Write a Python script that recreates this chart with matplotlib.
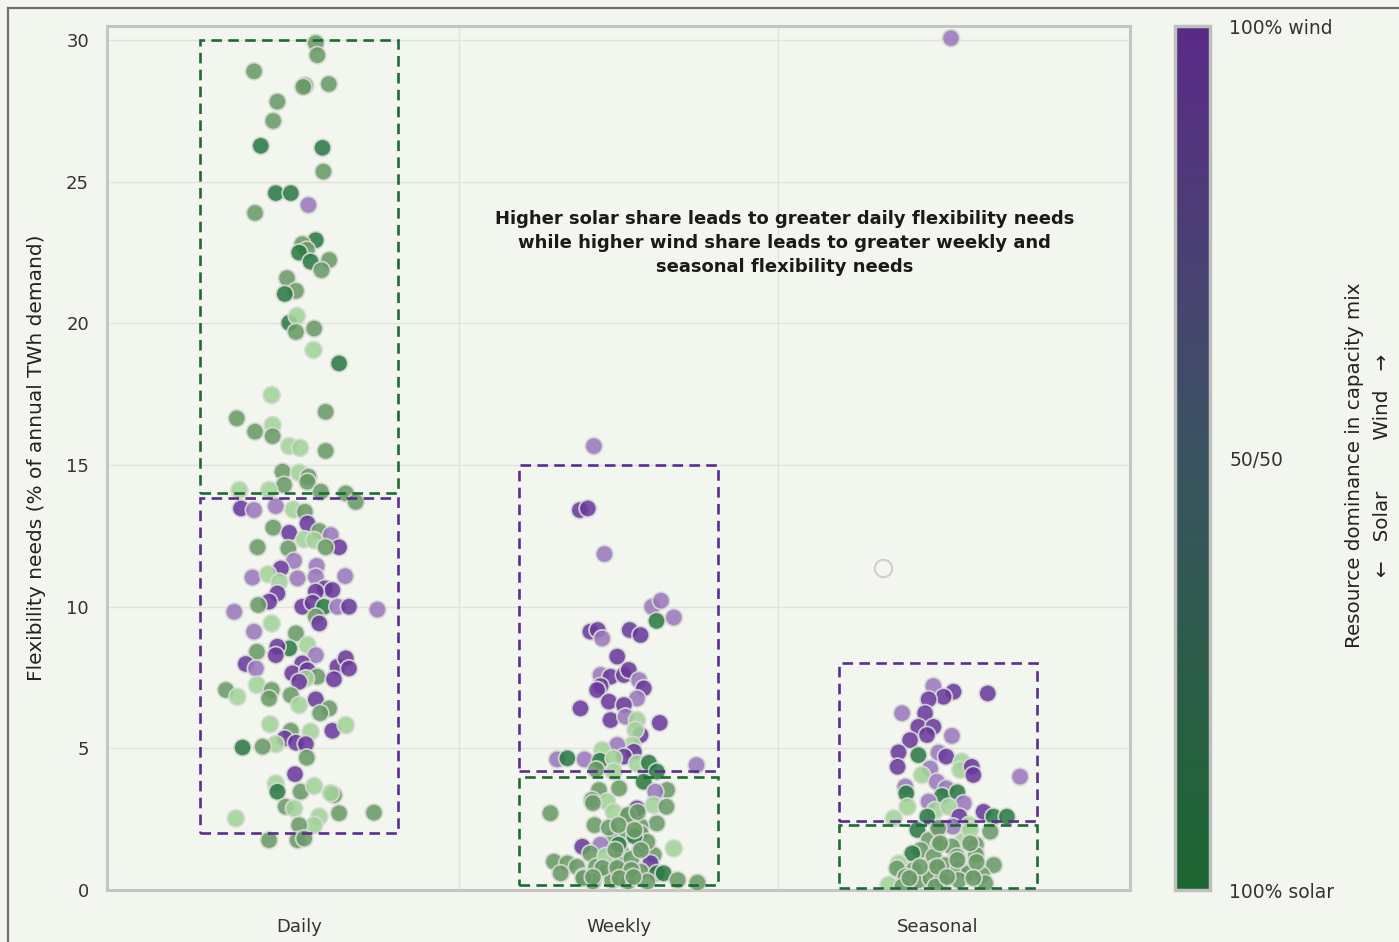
import numpy as np
import matplotlib
matplotlib.use("Agg")
import matplotlib.pyplot as plt
from matplotlib.colors import LinearSegmentedColormap, Normalize
from matplotlib.cm import ScalarMappable
from matplotlib.patches import Rectangle

# ---------- data ---------- #
categories = ["Daily", "Weekly", "Seasonal"]

# horizontal jitter (fraction of category spacing), flexibility need (%), mix class
# mix class: D dark green, M mid green, G light green, L light purple, P purple
daily_dx = [0.053, 0.058, -0.14, 0.02, 0.014, 0.094, -0.067, -0.08, -0.119, 0.074,
            0.077, -0.072, -0.025, 0.03, -0.137, 0.053, 0.011, 0.025, 0.001, 0.095,
            0.037, 0.071, -0.037, -0.009, -0.044, -0.03, -0.006, -0.009, 0.048, 0.046,
            0.126, -0.085, 0.084, -0.194, -0.137, -0.082, -0.082, -0.03, 0.004, 0.084,
            -0.051, 0.001, 0.03,
            -0.046, 0.027, -0.186, -0.093, 0.069, 0.147, 0.178, -0.181, -0.14, -0.072,
            -0.017, 0.019, 0.027, -0.08, -0.03, 0.064, 0.1, 0.017, 0.048, 0.126,
            -0.129, -0.033, 0.084, -0.015, -0.056, 0.056, 0.053, -0.004, -0.145, -0.096,
            -0.061, 0.145, 0.081, 0.105, 0.053, -0.067, -0.093, -0.127, 0.011, 0.043,
            0.079, 0.121, 0.157, 0.246, -0.202, 0.053, 0.064, -0.14, -0.085, -0.009,
            -0.03, -0.067, -0.072, 0.027, 0.053, -0.131, -0.166, -0.134, 0.011, -0.02,
            0.027, 0.058, 0.022, 0.001, 0.121, 0.147, 0.157, 0.11, -0.131, -0.228,
            -0.192, -0.085, -0.093, -0.025, 0.053, 0.001, 0.095, 0.067, -0.09, -0.025,
            0.037, 0.105, 0.147, -0.044, -0.009, 0.022, -0.072, -0.113, -0.176, 0.025,
            -0.012, -0.072, -0.067, 0.006, 0.048, 0.11, 0.1, -0.041, -0.015, -0.197,
            0.064, 0.126, 0.235, 0.048, 0.001, -0.093, -0.004, 0.017]
daily_y = [29.9, 29.47, 28.9, 28.4, 28.35, 28.45, 27.83, 27.15, 26.27, 26.2,
           25.36, 24.6, 24.6, 24.18, 23.9, 22.94, 22.8, 22.6, 22.5, 22.24,
           22.18, 21.88, 21.6, 21.15, 21.04, 20.02, 20.26, 19.7, 19.82, 19.06,
           18.59, 17.47, 16.88, 16.65, 16.18, 16.41, 16.02, 15.67, 15.61, 15.5,
           14.77, 14.73, 14.59,
           14.3, 14.41, 14.12, 14.12, 14.06, 14.0, 13.7, 13.47, 13.41, 13.55,
           13.43, 13.35, 12.94, 12.79, 12.61, 12.67, 12.53, 12.38, 12.35, 12.1,
           12.1, 12.06, 12.1, 11.62, 11.35, 11.44, 11.06, 11.0, 11.03, 11.15,
           10.88, 11.08, 10.65, 10.59, 10.53, 10.47, 10.18, 10.06, 10.0, 10.14,
           10.0, 10.0, 10.0, 9.9, 9.82, 9.65, 9.41, 9.12, 9.41, 9.06,
           8.53, 8.59, 8.29, 8.65, 8.29, 8.41, 7.98, 7.82, 8.0, 7.65,
           7.76, 7.53, 7.47, 7.35, 7.88, 8.18, 7.82, 7.44, 7.24, 7.06,
           6.82, 7.06, 6.76, 6.88, 6.73, 6.53, 6.41, 6.24, 5.85, 5.62,
           5.59, 5.62, 5.82, 5.35, 5.2, 5.15, 5.15, 5.06, 5.03, 4.67,
           4.09, 3.76, 3.47, 3.47, 3.67, 3.35, 3.42, 2.94, 2.88, 2.53,
           2.59, 2.71, 2.73, 2.29, 2.29, 1.76, 1.76, 1.82]
daily_mix = list("MMMMMMMMDD" "MDDLMDMMDM" "DMMMDDGMMG" "DGMMMGMGGM" "MGM"
                 "MMGGMMMPLL" "GMPMPMLGGP" "MMMLPLLLLG" "GLPPPPPMPP"
                 "DLPLLMPLGM" "DPPGLMPLPP" "PMGPPPPPGM" "GMMMPGMMGM"
                 "GPGPPPGMDM" "PGDMGMGMGG" "GMMGMMMM")

weekly_dx = [-0.077, -0.121, -0.096, -0.044, 0.105, 0.133, 0.173, 0.119, -0.088, -0.065,
             -0.051, 0.035, 0.069, -0.004, -0.056, -0.025, 0.017, 0.032, -0.056, -0.067,
             0.064, 0.079, 0.058, -0.03, 0.017, -0.119, -0.025, 0.022, 0.058, 0.129,
             0.069, 0.053, 0.043, -0.004, -0.051, 0.048, 0.017, -0.192, -0.16, -0.106,
             -0.058, -0.015, 0.058, 0.095, 0.244, 0.12, -0.015, -0.07, 0.079, 0.152,
             -0.061, 0.002, 0.115, 0.11, 0.15, -0.083, -0.036, 0.058, -0.213, -0.015,
             0.027, 0.12, -0.075, 0.069, -0.015, 0.027, 0.069, 0.173, -0.113, -0.056,
             -0.088, 0.069, 0.11, 0.1, -0.202, -0.16, -0.13, -0.181, -0.07, -0.036,
             -0.01, 0.02, 0.048, 0.069, 0.12, 0.141, -0.11, 0.185, 0.247, -0.03,
             0.01, 0.04, -0.04, 0.09, -0.02, 0.03, 0.09, -0.08, 0.0, 0.05,
             0.03, 0.06, -0.08, 0.0, 0.05, -0.01, 0.07, -0.05, -0.004, 0.04,
             -0.11, -0.08, 0.003, 0.047]
weekly_y = [15.67, 13.41, 13.47, 11.86, 10.0, 10.21, 9.62, 9.5, 9.12, 9.18,
            8.88, 9.18, 9.0, 8.24, 7.59, 7.53, 7.59, 7.77, 7.2, 7.06,
            7.41, 7.12, 6.76, 6.65, 6.53, 6.41, 6.0, 6.12, 6.0, 5.9,
            5.47, 5.65, 5.12, 5.12, 4.94, 4.88, 4.71, 4.61, 4.65, 4.61,
            4.56, 4.65, 4.47, 4.49, 4.41, 4.18, 4.18, 4.25, 3.82, 3.53,
            3.53, 3.59, 3.47, 3.0, 2.94, 3.18, 3.12, 2.88, 2.71, 2.75,
            2.59, 2.35, 2.29, 2.25, 1.82, 1.94, 2.0, 1.47, 1.53, 1.6,
            1.29, 1.47, 1.24, 0.95, 1.0, 0.94, 0.82, 0.59, 0.82, 0.7,
            0.72, 0.65, 0.59, 0.65, 0.59, 0.59, 0.47, 0.35, 0.26, 2.2,
            1.3, 1.1, 1.2, 1.7, 0.35, 0.3, 0.3, 0.3, 1.6, 1.9,
            2.65, 2.75, 3.07, 2.29, 2.12, 1.41, 1.41, 0.78, 0.78, 0.71,
            0.42, 0.46, 0.42, 0.46]
weekly_mix = list("LPPLLLLDPP" "LPPPLPPPPP" "LPLPPPPLGP" "PGGLGPPLDL"
                  "DGGDLDGMDM" "MMLGMMGPMG" "MMMMMMMGPL" "MMMPMMMMMM"
                  "MMDMDDMMMM" "MMGMMMMMDD" "MMMMMMMMMM" "MMMM")

seasonal_dx = [0.04, -0.015, 0.048, 0.017, -0.03, 0.155, -0.113, -0.041, -0.062, -0.015,
               -0.035, 0.043, -0.088, -0.124, -0.062, 0.001, 0.025, -0.127, -0.025, 0.074,
               0.069, 0.105, 0.11, 0.256, -0.051, -0.004, 0.025, -0.103, -0.1, 0.012,
               0.06, -0.03, 0.08, -0.096, -0.009, 0.033, 0.142, -0.139, -0.034, 0.066,
               0.173, 0.215, 0.097, -0.065, 0.004, 0.046, 0.163, -0.029, 0.077, 0.118,
               -0.055, 0.001, 0.043, -0.081, -0.014, 0.059, 0.118, 0.174, -0.123, -0.129,
               -0.076, -0.014, 0.022, 0.064, 0.095, 0.137, -0.102, -0.06, -0.024, 0.012,
               0.064, 0.147, -0.155, -0.112, -0.008,
               0.0, 0.1, 0.006, 0.1, 0.06, 0.12, -0.057, -0.003, 0.028, 0.11, -0.09]
seasonal_y = [30.07, 7.2, 7.0, 6.82, 6.73, 6.94, 6.24, 6.24, 5.76, 5.76,
              5.47, 5.44, 5.29, 4.86, 4.76, 4.85, 4.71, 4.35, 4.29, 4.53,
              4.24, 4.35, 4.06, 4.0, 4.06, 3.82, 3.59, 3.65, 3.41, 3.32,
              3.45, 3.12, 3.06, 2.94, 2.82, 2.94, 2.76, 2.53, 2.59, 2.59,
              2.59, 2.59, 2.3, 2.12, 2.18, 2.24, 2.06, 1.76, 1.71, 1.6,
              1.41, 1.59, 1.53, 1.29, 1.18, 1.18, 1.24, 0.88, 0.94, 0.76,
              0.71, 0.76, 0.88, 0.76, 0.59, 0.53, 0.47, 0.35, 0.41, 0.35,
              0.35, 0.24, 0.18, 0.12, 0.12,
              2.19, 2.12, 1.65, 1.65, 1.06, 0.99, 0.82, 0.82, 0.46, 0.42, 0.42]
seasonal_mix = list("LLPPPPLPPP" "PLPPDLPPLG" "GPPLGLLLDD" "DLLGGGPGDP"
                    "DDGDLLMMGM" "MMMDMMMMGM" "MMMMMMMMMM" "MMGMM"
                    "MGMMMMMMMMM")
# one run drawn as a hollow marker in the seasonal group
hollow_dx, hollow_y = -0.171, 11.35

# dashed ranges: (category, low, high, kind)
box_cat = [0, 0, 1, 1, 2, 2]
box_lo = [14.0, 2.0, 4.2, 0.18, 2.44, 0.07]
box_hi = [30.0, 13.84, 15.0, 4.0, 8.0, 2.3]
box_kind = ["solar", "wind", "wind", "solar", "wind", "solar"]

# ---------- styling ---------- #
mix_colors = {"D": "#2c7a44", "M": "#6a9a66", "G": "#a2d398",
              "L": "#9a78bd", "P": "#6a3a9c"}
box_colors = {"solar": "#1d6b33", "wind": "#5b2d8e"}
bg = "#f2f6ef"

fig = plt.figure(figsize=(13.99, 9.42), dpi=100, facecolor=bg)
ax = fig.add_axes([107 / 1399, 1 - 890 / 942, (1130 - 107) / 1399, (890 - 26) / 942])
ax.set_facecolor(bg)

groups = [(daily_dx, daily_y, daily_mix),
          (weekly_dx, weekly_y, weekly_mix),
          (seasonal_dx, seasonal_y, seasonal_mix)]
for i, (dx, yy, mix) in enumerate(groups):
    xs = i + np.array(dx)
    cols = [mix_colors[c] for c in mix]
    ax.scatter(xs, yy, s=155, c=cols, edgecolors="#d9dcd6", linewidths=1.3,
               alpha=0.88, zorder=3)

ax.scatter([2 + hollow_dx], [hollow_y], s=155, facecolors="none",
           edgecolors="#cfcfcf", linewidths=1.5, zorder=3)

for c, lo, hi, k in zip(box_cat, box_lo, box_hi, box_kind):
    ax.add_patch(Rectangle((c - 0.31, lo), 0.62, hi - lo, fill=False,
                           edgecolor=box_colors[k], linewidth=1.9,
                           linestyle=(0, (4, 2.4)), zorder=4))

ax.text(1.52, 22.84,
        "Higher solar share leads to greater daily flexibility needs\n"
        "while higher wind share leads to greater weekly and\n"
        "seasonal flexibility needs",
        ha="center", va="center", fontsize=13, fontweight="bold",
        color="#1a1a1a", linespacing=1.4, zorder=5)

ax.set_xlim(-0.6, 2.6)
ax.set_ylim(0, 30.5)
ax.set_yticks([0, 5, 10, 15, 20, 25, 30])
ax.set_xticks([0, 1, 2])
ax.set_xticklabels(categories)
ax.set_xticks([0.5, 1.5], minor=True)
ax.tick_params(axis="both", which="both", length=0, labelsize=13, colors="#333333")
ax.tick_params(axis="y", pad=13)
ax.tick_params(axis="x", pad=20)
ax.grid(axis="y", which="major", color="#dfe3dc", linewidth=1)
ax.grid(axis="x", which="minor", color="#dfe3dc", linewidth=1)
ax.set_axisbelow(True)
for sp in ax.spines.values():
    sp.set_color("#c4c6c3")
    sp.set_linewidth(2.2)
ax.set_ylabel("Flexibility needs (% of annual TWh demand)", fontsize=14.5,
              color="#222222", labelpad=14)

# ---------- colour bar ---------- #
cmap = LinearSegmentedColormap.from_list("solar_wind",
                                         ["#1c6630", "#3a5360", "#5a2a88"])
cax = fig.add_axes([1175 / 1399, 1 - 890 / 942, 35 / 1399, (890 - 26) / 942])
cb = fig.colorbar(ScalarMappable(norm=Normalize(0, 1), cmap=cmap), cax=cax)
cb.set_ticks([0, 0.5, 1])
cb.set_ticklabels(["100% solar", "50/50", "100% wind"])
cb.ax.tick_params(length=0, labelsize=13.5, pad=14, colors="#333333")
cb.outline.set_edgecolor("#bdbfbc")
cb.outline.set_linewidth(2.5)

fig.text(1355 / 1399, 1 - 465 / 942, "Resource dominance in capacity mix",
         rotation=90, ha="center", va="center", fontsize=14.3, color="#222222")
fig.text(1383 / 1399, 1 - 465 / 942, "\u2190   Solar        Wind   \u2192",
         rotation=90, ha="center", va="center", fontsize=14.3, color="#222222")

# outer frame of the figure
fig.add_artist(Rectangle((8 / 1399, -0.05), 1.1, 1 - 8 / 942 + 0.05,
                         transform=fig.transFigure, fill=False,
                         edgecolor="#6f6f6f", linewidth=1.6))

fig.savefig("out.png", dpi=100, facecolor=bg)
